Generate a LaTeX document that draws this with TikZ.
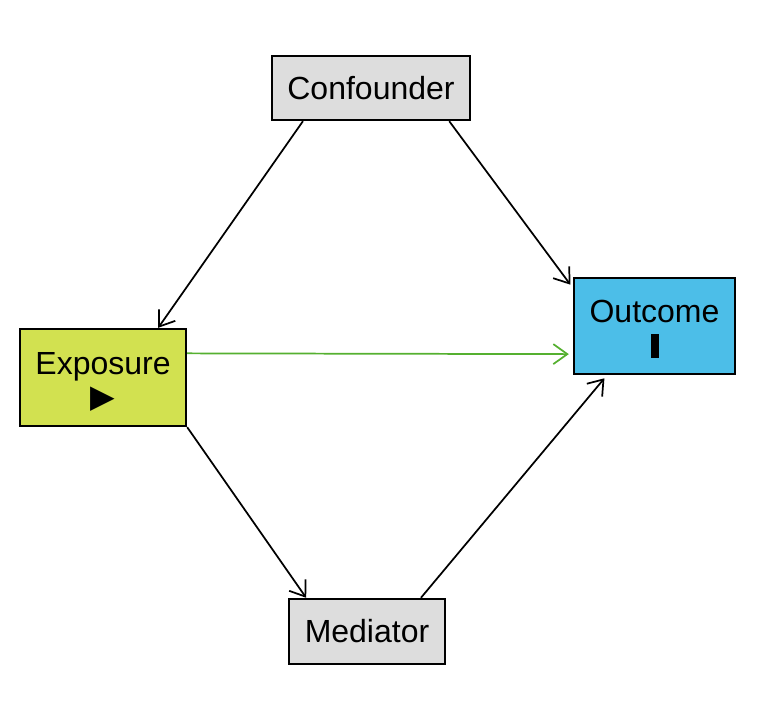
\documentclass[tikz,border=0pt]{standalone}
\usepackage{fontspec}
\setmainfont{Liberation Sans}
\newfontfamily\symbfont{DejaVu Sans}
\usetikzlibrary{arrows.meta}

\definecolor{boxgray}{RGB}{221,221,221}
\definecolor{expofill}{RGB}{210,225,80}
\definecolor{outcfill}{RGB}{76,190,232}
\definecolor{causalgreen}{RGB}{85,176,48}

\tikzset{every picture/.style={line width=0.75pt}}
\tikzset{
  varbox/.style={draw=black, line width=1.8pt, fill=boxgray, align=center,
    inner sep=0pt, font=\fontsize{24}{27}\selectfont},
  edge/.style={line width=1.3pt, -{Straight Barb[length=10.5pt,width=15pt]}},
}

\begin{document}
\begin{tikzpicture}[x=0.75pt,y=0.75pt,yscale=-1,xscale=1]
		\useasboundingbox (0,0) rectangle (780,716); %set diagram to the size of the reference

		%Shape: Rectangle [confounder]
		\node [varbox, minimum width=148.5pt, minimum height=48pt] (conf) at (371,88) {Confounder};
		%Shape: Rectangle [exposure]
		\node [varbox, fill=expofill, minimum width=124.5pt, minimum height=72.75pt] (expo) at (103,377.5) {\rule{0pt}{23pt}Exposure\\[-2.25pt]{\symbfont ▶}};
		%Shape: Rectangle [outcome]
		\node [varbox, fill=outcfill, minimum width=120.75pt, minimum height=72pt] (outc) at (654.5,326) {\rule{0pt}{21pt}Outcome\\\rule{6pt}{18pt}};
		%Shape: Rectangle [mediator]
		\node [varbox, minimum width=117pt, minimum height=48.75pt] (medi) at (367,631.5) {Mediator};

		%Straight Lines [confounder -> exposure]
		\draw [edge] (conf.206) -- (expo.42) ;
		%Straight Lines [confounder -> outcome]
		\draw [edge, shorten >=3pt] (conf.-23) -- (outc.155) ;
		%Straight Lines [exposure -> outcome]
		\draw [edge, draw=causalgreen, shorten >=3pt] (expo.16) -- (outc.199) ;
		%Straight Lines [exposure -> mediator]
		\draw [edge] (expo.south east) -- (medi.151) ;
		%Straight Lines [mediator -> outcome]
		\draw [edge, shorten >=3pt] (medi.32) -- (outc.226) ;
\end{tikzpicture}
\end{document}
